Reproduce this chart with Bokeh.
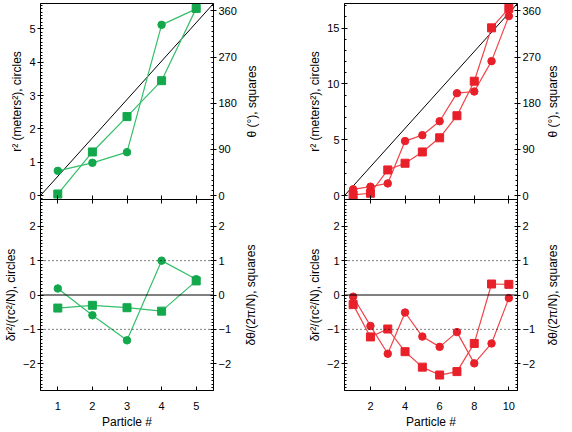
import numpy as np
from bokeh.plotting import figure
from bokeh.models import Range1d, LinearAxis, FixedTicker, Span, CustomJSTickFormatter
from bokeh.layouts import row, column
from bokeh.embed import file_html
from bokeh.resources import INLINE

# ---------------- data ----------------
particles_5 = [1, 2, 3, 4, 5]
r2_5 = [0.74, 0.98, 1.30, 5.12, 5.60]          # meters^2 (circles)
theta_5 = [3, 85, 154, 224, 365]                # degrees (squares)
dr2_5 = [0.19, -0.59, -1.32, 1.00, 0.46]        # circles
dtheta_5 = [-0.38, -0.30, -0.37, -0.47, 0.41]   # squares

particles_10 = [1, 2, 3, 4, 5, 6, 7, 8, 9, 10]
r2_10 = [0.56, 0.80, 1.09, 4.88, 5.41, 6.66, 9.17, 9.32, 12.04, 16.07]
theta_10 = [1.3, 4.5, 50, 63, 85, 112.6, 155.7, 223, 327, 365]
dr2_10 = [-0.05, -0.90, -1.71, -0.51, -1.21, -1.51, -1.08, -1.99, -1.41, -0.09]
dtheta_10 = [-0.28, -1.22, -0.99, -1.65, -2.10, -2.33, -2.23, -1.41, 0.32, 0.31]

# reference diagonal lines (ideal spacing)
diag_x_5 = [0.5, 5.5]
diag_y_5 = [0.0, 5.76]
diag_x_10 = [0.5, 10.5]
diag_y_10 = [0.0, 17.2]

xticks_5 = [1, 2, 3, 4, 5]
xticks_10 = [2, 4, 6, 8, 10]
r2_ticks_5 = [0, 1, 2, 3, 4, 5]
r2_ticks_10 = [0, 5, 10, 15]
theta_ticks = [0, 90, 180, 270, 360]
dev_ticks = [-2, -1, 0, 1, 2]

LABEL_R2 = "r² (meters²), circles"
LABEL_TH = "θ (°), squares"
LABEL_DR = "δr²/(rᴄ²/N), circles"
LABEL_DT = "δθ/(2π/N), squares"

GREEN = "#13a84c"
GREEN_L = "#33bf6a"
RED = "#e8202a"
RED_L = "#f04448"
FONT = "Liberation Sans"

FW = 173
FH_TOP = 196
FH_BOT = 191
TOP_B = 3
BOT_B = 41
OVERLAP = 8

L1, R1, L2, R2, D = 38, 27, 100, 23, 16
FAR_STANDOFF = 47

blank = CustomJSTickFormatter(code="return ''")


def label_style(ax, label, standoff):
    ax.axis_label = label
    ax.axis_label_standoff = standoff
    ax.axis_label_text_font = FONT
    ax.axis_label_text_font_size = "12px"
    ax.axis_label_text_font_style = "normal"
    ax.axis_label_text_color = "black"


def style_y(ax, ticks, minor, label=None):
    ax.ticker = FixedTicker(ticks=ticks, minor_ticks=minor)
    ax.major_tick_in = 3
    ax.major_tick_out = 3
    ax.minor_tick_in = 2
    ax.minor_tick_out = 0
    ax.major_label_standoff = 2
    if label is not None:
        label_style(ax, label, 2)
    ax.major_label_text_font = FONT
    ax.major_label_text_font_size = "11px"
    ax.major_label_text_color = "black"
    ax.axis_line_color = "black"
    ax.major_tick_line_color = "black"
    ax.minor_tick_line_color = "black"


def label_only_axis(ax, label, standoff):
    ax.ticker = FixedTicker(ticks=[])
    ax.axis_line_color = None
    ax.major_tick_line_color = None
    ax.minor_tick_line_color = None
    ax.major_tick_out = 0
    ax.major_label_standoff = 0
    label_style(ax, label, standoff)


def make_fig(xr, yr, fh, mbl, mbr, mbt, mbb):
    p = figure(frame_width=FW, frame_height=fh, x_range=xr, y_range=yr,
               output_backend="svg", toolbar_location=None,
               min_border_left=mbl, min_border_right=mbr,
               min_border_top=mbt, min_border_bottom=mbb)
    p.grid.visible = False
    p.outline_line_color = "black"
    p.outline_line_width = 1
    return p


def top_panel(px, r2, th, dx, dy, xr, yr, ticks_r2, minor_r2, xticks, col, coll, mbl, mbr,
              far_label=None):
    p = make_fig(Range1d(*xr), Range1d(*yr), FH_TOP, mbl, mbr, TOP_B, OVERLAP)
    p.extra_y_ranges = {"theta": Range1d(-7.7, 374.5)}
    style_y(p.yaxis[0], ticks_r2, minor_r2, LABEL_R2)
    rax = LinearAxis(y_range_name="theta")
    style_y(rax, theta_ticks, list(range(0, 371, 10)))
    p.add_layout(rax, "right")
    if far_label is not None:
        fax = LinearAxis()
        label_only_axis(fax, far_label, FAR_STANDOFF)
        p.add_layout(fax, "left")
    xa = p.xaxis[0]
    xa.ticker = FixedTicker(ticks=xticks)
    xa.major_tick_in = 4
    xa.major_tick_out = 4
    xa.minor_tick_line_color = None
    xa.axis_line_color = "black"
    xa.major_tick_line_color = "black"
    xa.formatter = blank
    xa.major_label_standoff = 0
    xa.major_label_text_font_size = "1px"
    p.line(dx, dy, line_color="black", line_width=1)
    p.line(px, r2, line_color=coll, line_width=1.2)
    p.line(px, th, line_color=coll, line_width=1.2, y_range_name="theta")
    p.scatter(px, r2, marker="circle", size=7.5, fill_color=col, line_color=col)
    p.scatter(px, th, marker="square", size=8, fill_color=col, line_color=col,
              y_range_name="theta")
    return p


def bottom_panel(px, d1, d2, xr, xticks, col, coll, mbl, mbr, far_label=None):
    p = make_fig(Range1d(*xr), Range1d(-2.78, 2.78), FH_BOT, mbl, mbr, 0, BOT_B)
    p.margin = (-OVERLAP, 0, 0, 0)
    p.background_fill_alpha = 0
    p.border_fill_alpha = 0
    p.extra_y_ranges = {"dev": Range1d(-2.78, 2.78)}
    minor = [round(v, 1) for v in np.arange(-2.7, 2.75, 0.1)]
    style_y(p.yaxis[0], dev_ticks, minor, LABEL_DR)
    rax = LinearAxis(y_range_name="dev")
    style_y(rax, dev_ticks, minor)
    p.add_layout(rax, "right")
    if far_label is not None:
        fax = LinearAxis()
        label_only_axis(fax, far_label, FAR_STANDOFF)
        p.add_layout(fax, "left")
    xa = p.xaxis[0]
    xa.ticker = FixedTicker(ticks=xticks)
    xa.major_tick_in = 4
    xa.major_tick_out = 0
    xa.minor_tick_line_color = None
    xa.axis_line_color = "black"
    xa.major_tick_line_color = "black"
    xa.major_label_standoff = 11
    xa.major_label_text_font = FONT
    xa.major_label_text_font_size = "11px"
    xa.major_label_text_color = "black"
    label_style(xa, "Particle #", 2)
    for loc in (1, -1):
        p.add_layout(Span(location=loc, dimension="width", line_color="black",
                          line_width=1, line_dash="1 3"))
    p.add_layout(Span(location=0, dimension="width", line_color="black", line_width=1))
    p.line(px, d1, line_color=coll, line_width=1.2)
    p.line(px, d2, line_color=coll, line_width=1.2)
    p.scatter(px, d1, marker="circle", size=7.5, fill_color=col, line_color=col)
    p.scatter(px, d2, marker="square", size=8, fill_color=col, line_color=col)
    return p


def label_fig(fh, mbt, mbb, text, bottom=False):
    p = figure(frame_width=1, frame_height=fh, x_range=Range1d(0, 1), y_range=Range1d(0, 1),
               x_axis_location=None, y_axis_location="left",
               output_backend="svg", toolbar_location=None,
               min_border_left=D, min_border_right=0, min_border_top=mbt, min_border_bottom=mbb)
    p.grid.visible = False
    p.outline_line_color = None
    label_only_axis(p.yaxis[0], text, 0)
    if bottom:
        p.margin = (-OVERLAP, 0, 0, 0)
        p.background_fill_alpha = 0
        p.border_fill_alpha = 0
    return p


minor_5 = [round(v, 1) for v in np.arange(-0.1, 5.8, 0.1)]
minor_10 = list(range(0, 18))

p1 = top_panel(particles_5, r2_5, theta_5, diag_x_5, diag_y_5, (0.5, 5.5), (-0.12, 5.76),
               r2_ticks_5, minor_5, xticks_5, GREEN, GREEN_L, L1, R1)
p2 = top_panel(particles_10, r2_10, theta_10, diag_x_10, diag_y_10, (0.5, 10.5), (-0.35, 17.2),
               r2_ticks_10, minor_10, xticks_10, RED, RED_L, L2, R2, far_label=LABEL_TH)
p3 = bottom_panel(particles_5, dr2_5, dtheta_5, (0.5, 5.5), xticks_5, GREEN, GREEN_L, L1, R1)
p4 = bottom_panel(particles_10, dr2_10, dtheta_10, (0.5, 10.5), xticks_10, RED, RED_L, L2, R2,
                  far_label=LABEL_DT)
d_top = label_fig(FH_TOP, TOP_B, OVERLAP, LABEL_TH)
d_bot = label_fig(FH_BOT, 0, BOT_B, LABEL_DT, bottom=True)

layout = row(column(p1, p3, spacing=0), column(p2, p4, spacing=0),
             column(d_top, d_bot, spacing=0), spacing=0)

open("out.html", "w").write(file_html(layout, INLINE))
